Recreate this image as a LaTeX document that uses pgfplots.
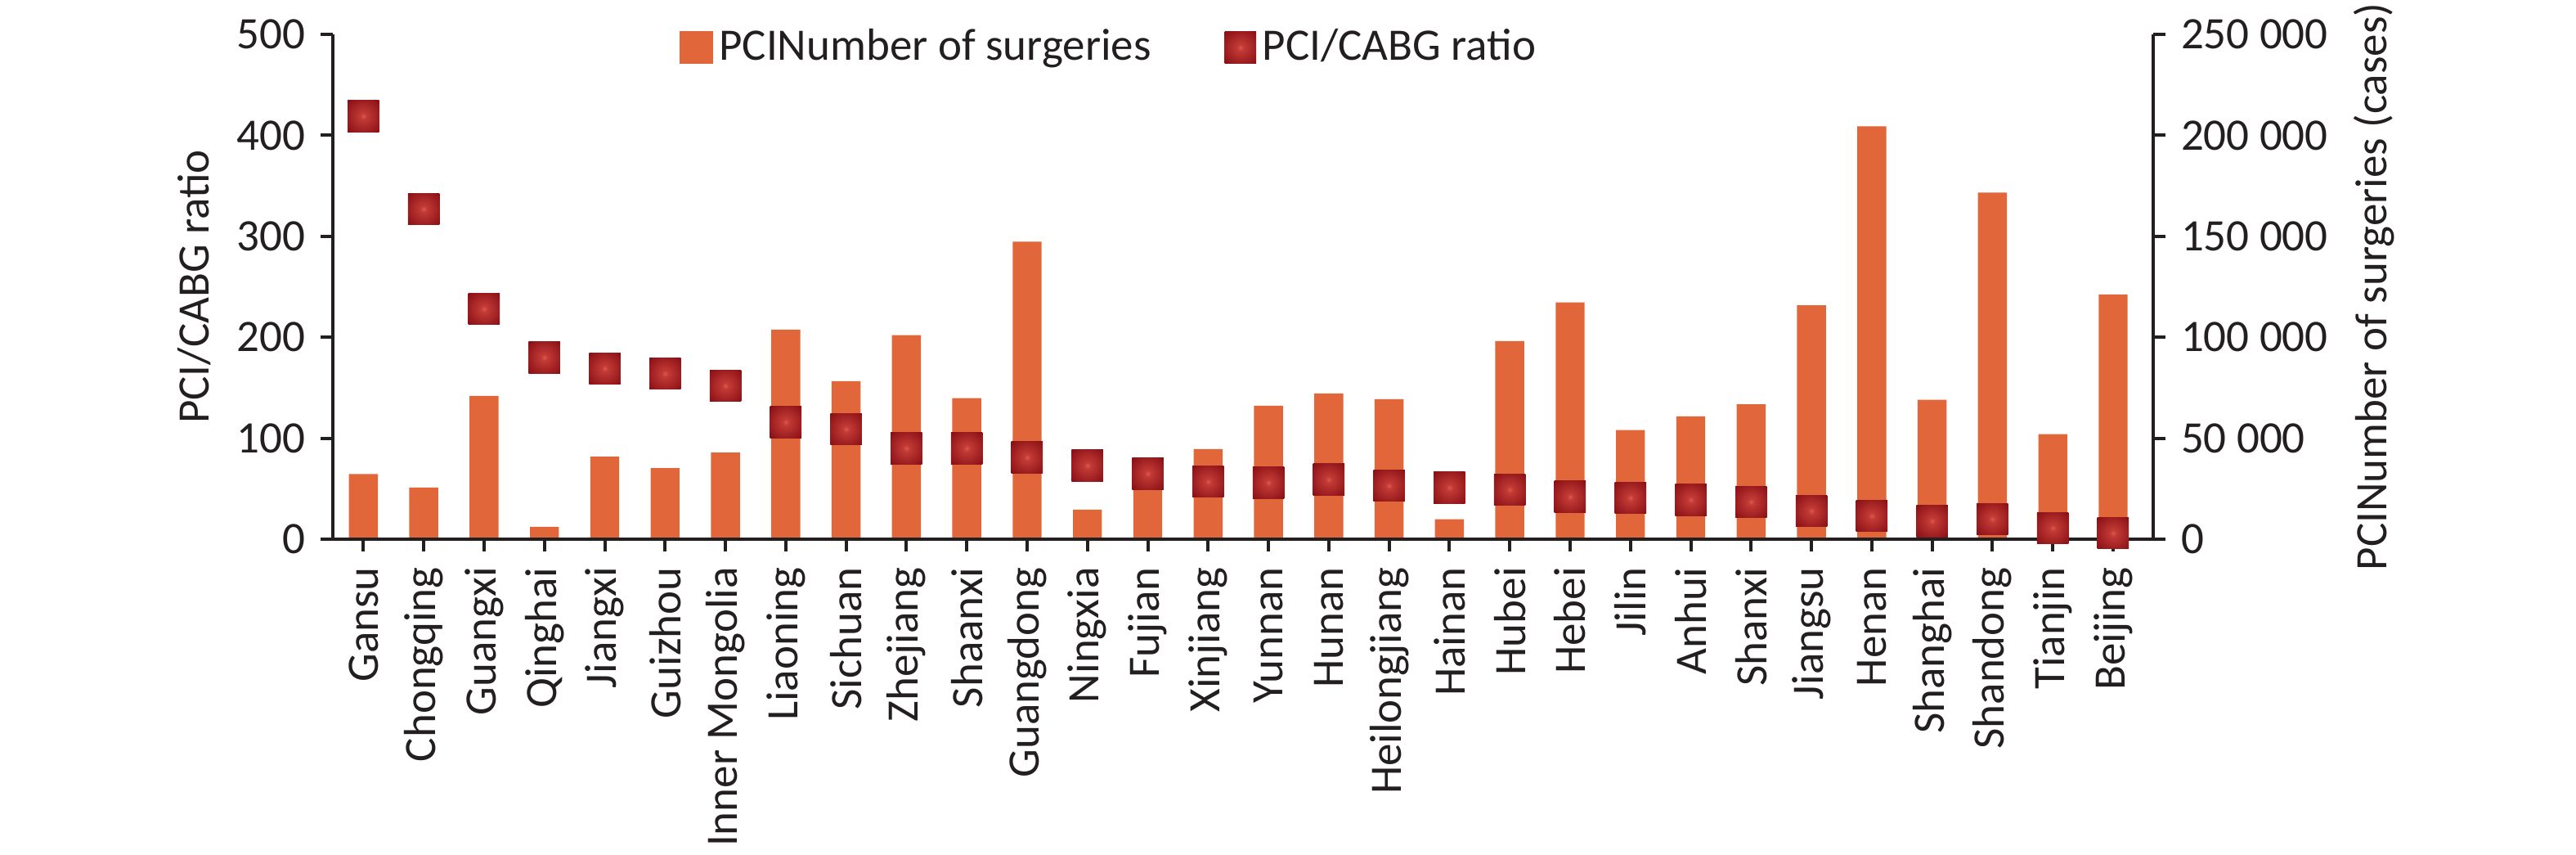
\documentclass[border=0pt]{standalone}
\usepackage{fontspec}
\setmainfont{Carlito}
\usepackage{pgfplots}
\usepackage{pgfplotstable}
\pgfplotsset{compat=1.18}
\definecolor{txt}{HTML}{231F20}
\definecolor{barc}{HTML}{E1673A}
\definecolor{mkin}{HTML}{DC5A4C}
\definecolor{mkmid}{HTML}{C23A35}
\definecolor{mkout}{HTML}{8A1016}
\pgfdeclareradialshading{mkshade}{\pgfpoint{0bp}{0bp}}{color(0bp)=(mkin); color(5bp)=(mkmid); color(34bp)=(mkout); color(50bp)=(mkout)}
\tikzset{mkstyle/.style={shape=rectangle, draw=none, minimum size=7.7pt, inner sep=0pt, shade, shading=mkshade}}

\pgfplotstableread{
x ratio cases
0 419 32300
1 327 25600
2 228 71000
3 180 6100
4 169 40900
5 164 35200
6 152 42900
7 116 103800
8 109 78300
9 90 101000
10 90 69800
11 81 147300
12 73 14600
13 65 32000
14 57 44600
15 56 66100
16 59 72200
17 53 69300
18 51 9900
19 49 98100
20 42 117300
21 41 54000
22 39 60800
23 37 66800
24 28 115800
25 23 204500
26 18 69000
27 20 171700
28 11 52000
29 6 121200
}\data

\begin{document}
\fontsize{11}{13.2}\selectfont
\begin{tikzpicture}
\useasboundingbox (-81.5pt,-77.2pt) rectangle (548.5pt,131.8pt);
\pgfplotsset{
  every axis/.append style={
    scale only axis, width=445.04pt, height=123.4pt,
    at={(0pt,0pt)}, anchor=south west,
    xmin=-0.5, xmax=29.66,
    tick align=outside, major tick length=3pt,
    axis line style={txt, line width=0.8pt, -},
    major tick style={txt, line width=0.8pt},
    tick label style={text=txt},
    label style={text=txt},
    /pgf/number format/assume math mode=true,
  }
}
% bars, right axis
\begin{axis}[
  axis y line*=right, axis x line=none,
  ymin=0, ymax=250000,
  ytick={0,50000,100000,150000,200000,250000},
  scaled y ticks=false,
  yticklabel style={/pgf/number format/.cd, fixed, 1000 sep={\ }},
  ylabel={PCINumber of surgeries (cases)},
  ylabel style={at={(axis description cs:1.1214,0.5)}, anchor=center, rotate=0},
  ybar, bar width=0.48,
]
\addplot[fill=barc, draw=none] table[x=x, y=cases] {\data};
\end{axis}
% markers, left axis
\begin{axis}[
  axis y line*=left, axis x line*=bottom,
  ymin=0, ymax=500,
  ytick={0,100,200,300,400,500},
  xtick={0,...,29},
  xticklabels={Gansu,Chongqing,Guangxi,Qinghai,Jiangxi,Guizhou,Inner Mongolia,Liaoning,Sichuan,Zhejiang,Shaanxi,Guangdong,Ningxia,Fujian,Xinjiang,Yunnan,Hunan,Heilongjiang,Hainan,Hubei,Hebei,Jilin,Anhui,Shanxi,Jiangsu,Henan,Shanghai,Shandong,Tianjin,Beijing},
  xticklabel style={rotate=90, anchor=east},
  ylabel={PCI/CABG ratio},
  ylabel style={at={(axis description cs:-0.0762,0.5)}, anchor=center},
  clip=false,
  legend columns=2,
  legend style={at={(0.19,0.974)}, anchor=west, draw=none, fill=none,
    inner xsep=0pt, inner ysep=0pt, text=txt,
    nodes={inner sep=1.5pt},
    /tikz/every even column/.append style={column sep=16.5pt}},
]
\addlegendimage{legend image code/.code={\fill[barc] (0pt,-3.85pt) rectangle (7.7pt,3.85pt);}}
\addlegendentry{PCINumber of surgeries}
\addplot[only marks, mark=text, text mark={}, text mark as node=true,
  text mark style={mkstyle},
  legend image code/.code={\node[mkstyle] at (3.85pt,0pt) {};}]
  table[x=x, y=ratio] {\data};
\addlegendentry{PCI/CABG ratio}
\end{axis}
\end{tikzpicture}
\end{document}
